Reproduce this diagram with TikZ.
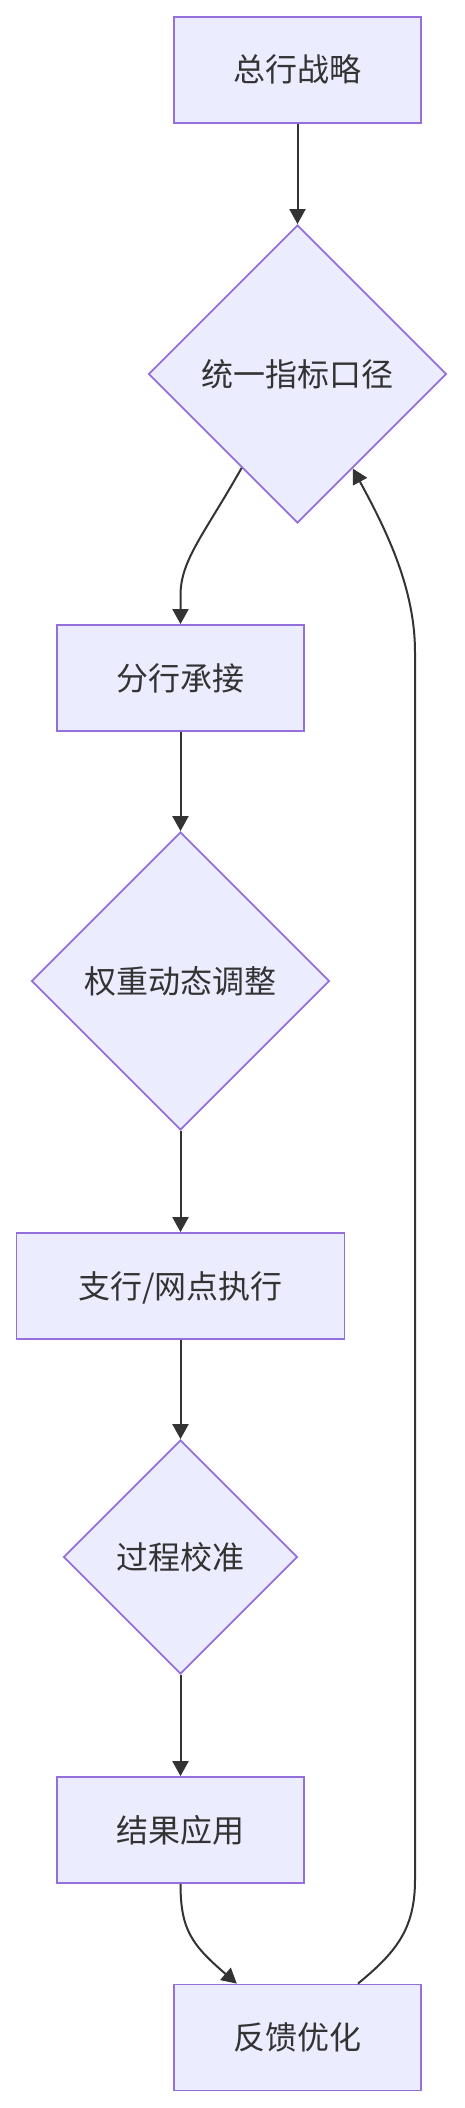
\documentclass[tikz,border=0pt]{standalone}
\usepackage{fontspec}
\setmainfont{Noto Sans CJK SC}
\usetikzlibrary{shapes.geometric,arrows.meta,calc}
\definecolor{nodefill}{HTML}{ECECFF}
\definecolor{nodeline}{HTML}{9370DB}
\definecolor{ink}{HTML}{333333}
\tikzset{
  box/.style={rectangle, draw=nodeline, fill=nodefill, line width=1.8pt,
    minimum height=106pt, minimum width=247pt, inner sep=0pt, text=ink,
    font=\fontsize{32pt}{38pt}\selectfont, text height=28pt, text depth=4pt},
  dia/.style={diamond, draw=nodeline, fill=nodefill, line width=1.8pt,
    inner sep=0pt, aspect=1, text=ink,
    font=\fontsize{32pt}{38pt}\selectfont, text height=28pt, text depth=4pt},
  arr/.style={draw=ink, line width=2pt, -{Triangle[length=15pt,width=16pt]}}
}
\begin{document}
\begin{tikzpicture}[x=1pt,y=-1pt]
\useasboundingbox (0,0) rectangle (464,2108);
\node[box] (b1) at (297.5,70) {总行战略};
\node[dia, minimum width=298pt, minimum height=298pt] (d1) at (297.5,374) {统一指标口径};
\node[box] (b2) at (180.5,678) {分行承接};
\node[dia, minimum width=298pt, minimum height=298pt] (d2) at (180.5,981) {权重动态调整};
\node[box, minimum width=328pt] (b3) at (180.5,1286) {支行/网点执行};
\node[dia, minimum width=234pt, minimum height=234pt] (d3) at (180.5,1557) {过程校准};
\node[box] (b4) at (180.5,1830) {结果应用};
\node[box] (b5) at (297.5,2037.5) {反馈优化};

\coordinate (s1) at ($(d1.west)!0.627!(d1.south)$);
\coordinate (e1) at ($(d1.east)!0.631!(d1.south)$);
\coordinate (t5) at ($(b5.north west)!0.256!(b5.north east)$);
\coordinate (s5) at ($(b5.north west)!0.743!(b5.north east)$);

\draw[arr] (b1) -- (d1);
\draw[arr] (s1) .. controls (205,533) and (180.5,560) .. (180.5,595) -- (b2.north);
\draw[arr] (b2) -- (d2);
\draw[arr] (d2) -- (b3);
\draw[arr] (b3) -- (d3);
\draw[arr] (d3) -- (b4);
\draw[arr] (b4.south) .. controls ($(b4.south)+(0,46)$) and (192,1945) .. (t5);
\draw[arr] (s5) .. controls (395,1953) and (415,1930) .. (415,1880) -- (415,652)
  .. controls (415,590) and (388,533) .. (e1);
\end{tikzpicture}
\end{document}
